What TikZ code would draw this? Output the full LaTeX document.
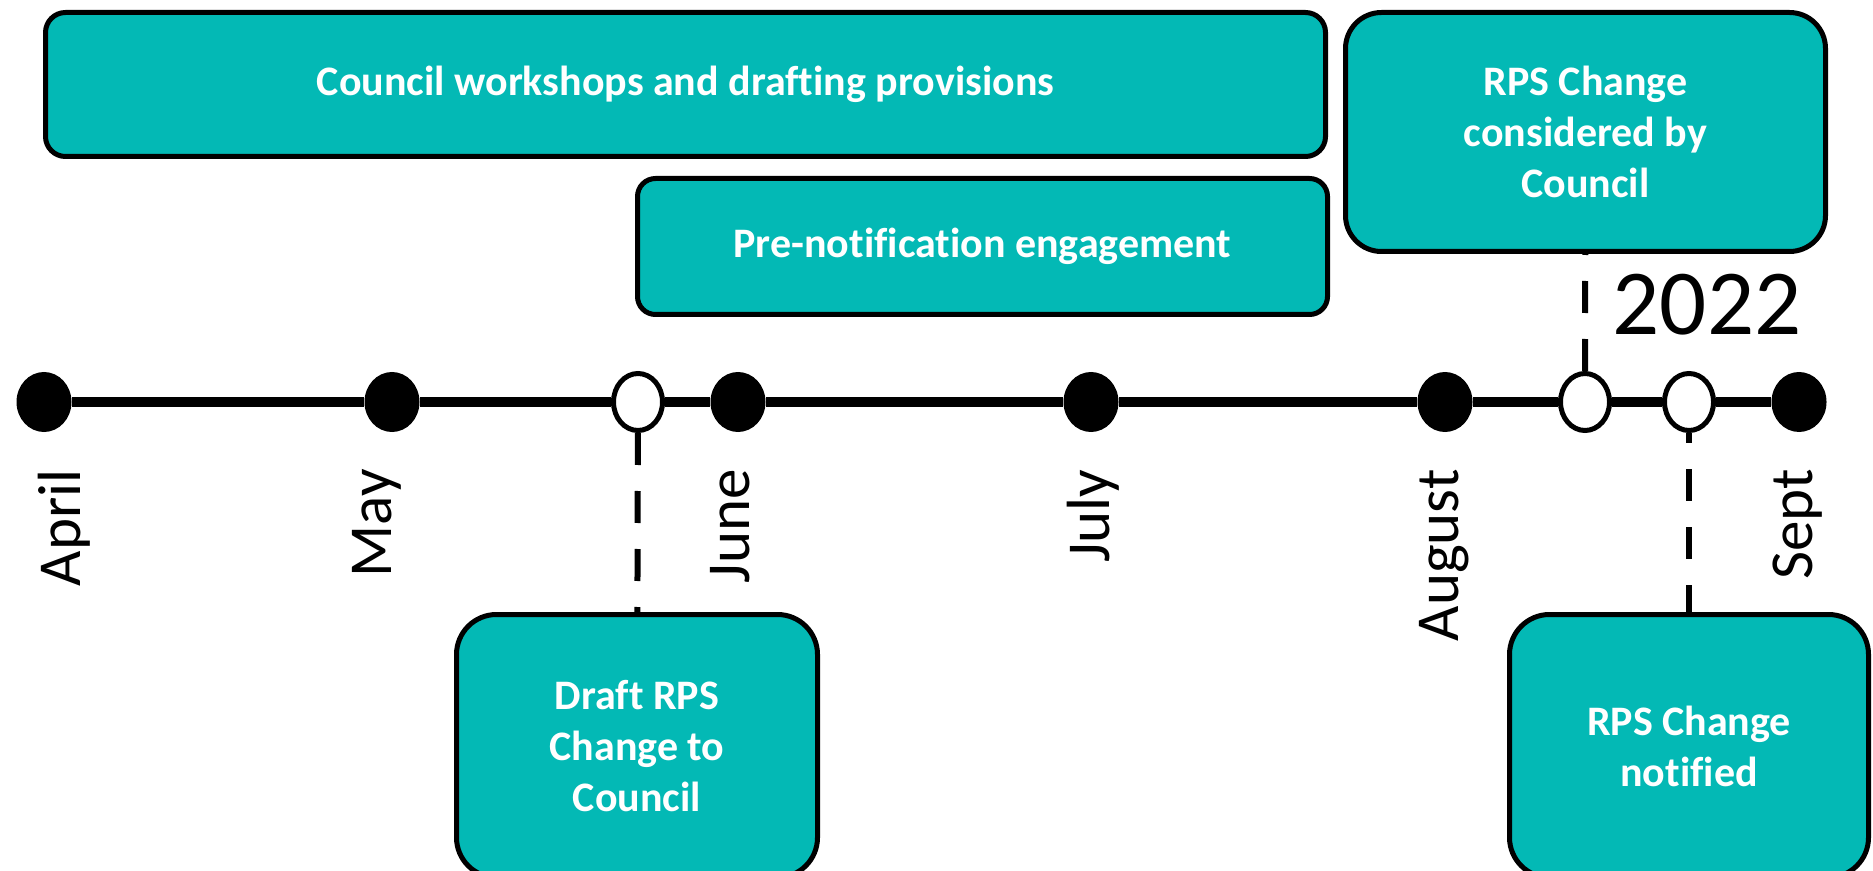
\documentclass[tikz,border=0pt]{standalone}
\usepackage{fontspec}
\setmainfont{Carlito}[Ligatures={NoCommon,NoContextual}, Contextuals=NoAlternate]
\usetikzlibrary{shapes.geometric}
\definecolor{boxteal}{RGB}{3,185,181}

\begin{document}
\begin{tikzpicture}[x=0.5pt, y=-0.5pt]
				\tikzstyle{every node}=[inner sep=0pt, align=center]
				\tikzstyle{phase}=[draw, line width=2.5pt, fill=boxteal, text=white, font=\bfseries\fontsize{21}{25.5}\selectfont]
				\tikzstyle{month}=[rotate=90, anchor=east, font=\fontsize{30.5}{36}\selectfont]
				\tikzstyle{dot}=[ellipse, fill=black, minimum width=27.5pt, minimum height=30pt]
				\tikzstyle{hollowdot}=[ellipse, draw, line width=2.5pt, fill=white, minimum width=24.5pt, minimum height=28.5pt]
				\tikzstyle{link}=[line width=3pt, dash pattern=on 16pt off 13pt]
				\useasboundingbox (0, 0) rectangle (1873, 871);
				\node[dot] (april) at (44, 402) {};
				\node[dot] (may) at (392, 402) {};
				\node[hollowdot] (draftdot) at (638, 402) {};
				\node[dot] (june) at (738, 402) {};
				\node[dot] (july) at (1091, 402) {};
				\node[dot] (aug) at (1445, 402) {};
				\node[hollowdot] (considerdot) at (1585, 402) {};
				\node[hollowdot] (notifydot) at (1689, 402) {};
				\node[dot] (sept) at (1799, 402) {};
				\draw[line width=5pt] (april) -- (may) -- (draftdot) -- (june) -- (july) -- (aug) -- (considerdot) -- (notifydot) -- (sept);
				\node[month] (aprillabel) at (64, 469) {April};
				\node[month] (maylabel) at (377, 469) {May};
				\node[month] (junelabel) at (730, 469) {June};
				\node[month] (julylabel) at (1093, 469) {July};
				\node[month] (auglabel) at (1444, 469) {August};
				\node[month] (septlabel) at (1798, 469) {Sept};
				\node[font=\fontsize{46.5}{50}\selectfont] (year) at (1707, 305) {2022};
				\node[phase, minimum width=640pt, minimum height=72pt, rounded corners=10pt] (workshops) at (685.5, 84.5) {Council workshops and drafting provisions};
				\node[phase, minimum width=345pt, minimum height=68pt, rounded corners=9pt] (engage) at (982.5, 246.5) {Pre-notification engagement};
				\node[phase, minimum width=240pt, minimum height=119.5pt, rounded corners=18pt] (consider) at (1585.5, 132) {RPS Change\\considered by\\Council};
				\node[phase, minimum width=180.5pt, minimum height=131.5pt, rounded corners=20pt] (draft) at (637, 746) {Draft RPS\\Change to\\Council};
				\node[phase, minimum width=179.5pt, minimum height=131.5pt, rounded corners=20pt] (notify) at (1689, 746) {RPS Change\\notified};
				\draw[link] (draftdot) -- (draft);
				\draw[link, dash phase=11pt] (notifydot) -- (notify);
				\draw[link] (considerdot) -- (consider);
		\end{tikzpicture}
\end{document}
